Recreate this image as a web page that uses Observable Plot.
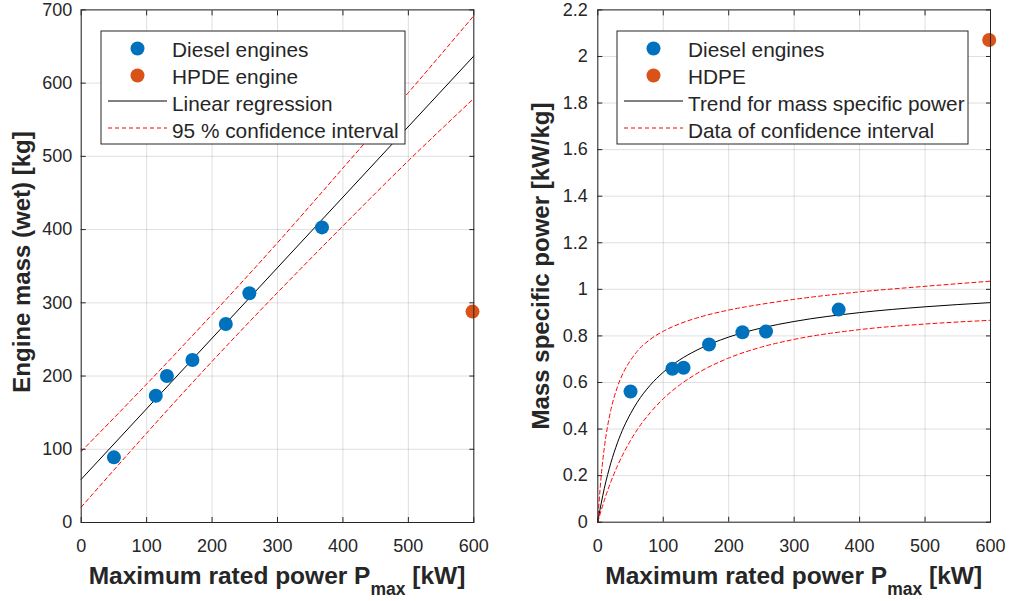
<!DOCTYPE html>
<html>
<head>
<meta charset="utf-8">
<script src="https://cdn.jsdelivr.net/npm/d3@7"></script>
<script src="https://cdn.jsdelivr.net/npm/@observablehq/plot@0.6"></script>
<style>
  body { margin: 0; background: #fff; }
  #wrap { position: relative; width: 1009px; height: 601px; overflow: hidden; background: #fff; }
  .panel { position: absolute; top: 0; }
  #overlay { position: absolute; left: 0; top: 0; pointer-events: none; }
</style>
</head>
<body>
<div id="wrap">
  <div class="panel" id="p1" style="left:0px"></div>
  <div class="panel" id="p2" style="left:505px"></div>
</div>
<script>
// ---------------- data ----------------
// Diesel engines: maximum rated power [kW] and engine mass (wet) [kg]
const dieselPower = [50, 114, 131, 170, 221, 257, 368];
const dieselMass  = [89, 173, 200, 222, 271, 313, 403];
// Mass specific power [kW/kg] of diesel engines
const dieselSpecific = [0.561, 0.659, 0.663, 0.763, 0.816, 0.819, 0.913];
// HPDE / HDPE engine
const hpdePower = [598];
const hpdeMass = [288];
const hpdeSpecific = [2.071];

// Linear regression (left panel)
const regPower = [0, 600];
const regMass  = [59, 637];
// 95 % confidence interval (left panel)
const ciPower = [0, 100, 200, 300, 400, 500, 600];
const ciUpperMass = [97, 189, 284, 382, 484, 587, 692];
const ciLowerMass = [21, 122, 220, 314, 405, 494, 579];

// Trend and confidence data for mass specific power (right panel)
const trendPower = [0, 2, 5, 10, 15, 20, 30, 40, 50, 60, 80, 100, 125, 150, 200, 250, 300, 400, 500, 600];
const trendSpecific = [0, 0.033, 0.078, 0.146, 0.204, 0.255, 0.341, 0.410, 0.466, 0.514, 0.588, 0.644, 0.697, 0.737, 0.795, 0.834, 0.862, 0.900, 0.925, 0.943];
const ciUpperSpecific = [0, 0.087, 0.192, 0.321, 0.413, 0.483, 0.581, 0.648, 0.695, 0.733, 0.785, 0.820, 0.852, 0.876, 0.911, 0.936, 0.957, 0.989, 1.013, 1.035];
const ciLowerSpecific = [0, 0.020, 0.049, 0.094, 0.136, 0.174, 0.242, 0.300, 0.351, 0.396, 0.470, 0.530, 0.589, 0.636, 0.705, 0.752, 0.785, 0.827, 0.851, 0.867];

// Ticks
const xTicks = [0, 100, 200, 300, 400, 500, 600];
const yTicksLeft = [0, 100, 200, 300, 400, 500, 600, 700];
const yTicksRight = [0, 0.2, 0.4, 0.6, 0.8, 1, 1.2, 1.4, 1.6, 1.8, 2, 2.2];

// Text
const xLabelMain = "Maximum rated power P";
const xLabelSub = "max";
const xLabelUnit = " [kW]";
const yLabelLeft = "Engine mass (wet) [kg]";
const yLabelRight = "Mass specific power [kW/kg]";
const legendLeft = ["Diesel engines", "HPDE engine", "Linear regression", "95 % confidence interval"];
const legendRight = ["Diesel engines", "HDPE", "Trend for mass specific power", "Data of confidence interval"];

// ---------------- style ----------------
const BLUE = "#0072BD", ORANGE = "#D95319", RED = "#FF0000", AX = "#262626";
const FONT = "'Liberation Sans', Arial, sans-serif";
const DASH = "4,3";

const zipRows = (xs, ys) => xs.map((x, i) => ({x, y: ys[i]}));

function axesMarks(yTicks, yFmt, yPad) {
  return [
    Plot.frame({stroke: AX, strokeWidth: 1}),
    Plot.axisX(xTicks, {anchor: "bottom", tickSize: 0, tickPadding: 17, label: null}),
    Plot.axisY(yTicks, {anchor: "left", tickSize: 0, tickPadding: yPad, label: null, tickFormat: yFmt}),
    Plot.axisX(xTicks, {anchor: "bottom", tickSize: 5, dy: -5, tickFormat: () => "", label: null, stroke: AX}),
    Plot.axisX(xTicks, {anchor: "top", tickSize: 5, dy: 5, tickFormat: () => "", label: null, stroke: AX}),
    Plot.axisY(yTicks, {anchor: "left", tickSize: 5, dx: 5, tickFormat: () => "", label: null, stroke: AX}),
    Plot.axisY(yTicks, {anchor: "right", tickSize: 5, dx: -5, tickFormat: () => "", label: null, stroke: AX})
  ];
}

const plotStyle = {fontFamily: FONT, fontSize: "18px", color: AX, background: "transparent", overflow: "visible"};

const left = Plot.plot({
  width: 505, height: 601,
  marginLeft: 80.7, marginRight: 31.7, marginTop: 9.4, marginBottom: 79,
  style: plotStyle,
  x: {domain: [0, 600], label: null},
  y: {domain: [0, 700], label: null},
  marks: [
    Plot.gridX(xTicks, {stroke: AX, strokeOpacity: 0.14}),
    Plot.gridY(yTicksLeft, {stroke: AX, strokeOpacity: 0.14}),
    Plot.line(zipRows(regPower, regMass), {x: "x", y: "y", stroke: "#000", strokeWidth: 1}),
    Plot.line(zipRows(ciPower, ciUpperMass), {x: "x", y: "y", stroke: RED, strokeWidth: 1, strokeDasharray: DASH, curve: "natural"}),
    Plot.line(zipRows(ciPower, ciLowerMass), {x: "x", y: "y", stroke: RED, strokeWidth: 1, strokeDasharray: DASH, curve: "natural"}),
    Plot.dot(zipRows(dieselPower, dieselMass), {x: "x", y: "y", r: 7, fill: BLUE, stroke: null}),
    Plot.dot(zipRows(hpdePower, hpdeMass), {x: "x", y: "y", r: 7, fill: ORANGE, stroke: null}),
    ...axesMarks(yTicksLeft, d3.format("d"), 9)
  ]
});
document.getElementById("p1").append(left);

const right = Plot.plot({
  width: 504, height: 601,
  marginLeft: 92.3, marginRight: 19, marginTop: 9.4, marginBottom: 79.3,
  style: plotStyle,
  x: {domain: [0, 600], label: null},
  y: {domain: [0, 2.2], label: null},
  marks: [
    Plot.gridX(xTicks, {stroke: AX, strokeOpacity: 0.14}),
    Plot.gridY(yTicksRight, {stroke: AX, strokeOpacity: 0.14}),
    Plot.line(zipRows(trendPower, trendSpecific), {x: "x", y: "y", stroke: "#000", strokeWidth: 1, curve: "monotone-x"}),
    Plot.line(zipRows(trendPower, ciUpperSpecific), {x: "x", y: "y", stroke: RED, strokeWidth: 1, strokeDasharray: DASH, curve: "monotone-x"}),
    Plot.line(zipRows(trendPower, ciLowerSpecific), {x: "x", y: "y", stroke: RED, strokeWidth: 1, strokeDasharray: DASH, curve: "monotone-x"}),
    Plot.dot(zipRows(dieselPower, dieselSpecific), {x: "x", y: "y", r: 7, fill: BLUE, stroke: null}),
    Plot.dot(zipRows(hpdePower, hpdeSpecific), {x: "x", y: "y", r: 7, fill: ORANGE, stroke: null}),
    ...axesMarks(yTicksRight, d3.format("~g"), 10)
  ]
});
document.getElementById("p2").append(right);

// ---------------- labels & legends overlay ----------------
const svg = d3.select("#wrap").append("svg")
  .attr("id", "overlay").attr("width", 1009).attr("height", 601)
  .style("font-family", FONT).style("fill", AX);

function xLabel(cx) {
  const t = svg.append("text").attr("x", cx).attr("y", 584)
    .attr("text-anchor", "middle").attr("font-size", 24.5).attr("font-weight", "bold").attr("fill", AX);
  t.append("tspan").text(xLabelMain);
  t.append("tspan").attr("font-size", 17.5).attr("dy", 11).text(xLabelSub);
  t.append("tspan").attr("dy", -11).text(xLabelUnit);
}
xLabel(277);
xLabel(793.7);

function yLabel(x, cy, txt) {
  svg.append("text").attr("transform", `translate(${x},${cy}) rotate(-90)`)
    .attr("text-anchor", "middle").attr("font-size", 24).attr("font-weight", "bold").attr("fill", AX)
    .text(txt);
}
yLabel(30, 262, yLabelLeft);
yLabel(549, 266, yLabelRight);

function legend(x0, w, labels) {
  const g = svg.append("g");
  g.append("rect").attr("x", x0).attr("y", 31).attr("width", w).attr("height", 113)
    .attr("fill", "#fff").attr("stroke", AX).attr("stroke-width", 1);
  const base = [56.5, 83.5, 110.5, 137.5];
  const symX1 = x0 + 7, symX2 = x0 + 66, dotX = x0 + 36.5, textX = x0 + 71;
  g.append("circle").attr("cx", dotX).attr("cy", 48.5).attr("r", 7).attr("fill", BLUE);
  g.append("circle").attr("cx", dotX).attr("cy", 75.5).attr("r", 7).attr("fill", ORANGE);
  g.append("line").attr("x1", symX1).attr("x2", symX2).attr("y1", 101).attr("y2", 101)
    .attr("stroke", "#000").attr("stroke-width", 1);
  g.append("line").attr("x1", symX1).attr("x2", symX2).attr("y1", 128).attr("y2", 128)
    .attr("stroke", RED).attr("stroke-width", 1).attr("stroke-dasharray", DASH);
  labels.forEach((s, i) => {
    g.append("text").attr("x", textX).attr("y", base[i]).attr("font-size", 20.8).attr("fill", AX).text(s);
  });
}
legend(101, 304, legendLeft);
legend(617, 351, legendRight);
</script>
</body>
</html>
